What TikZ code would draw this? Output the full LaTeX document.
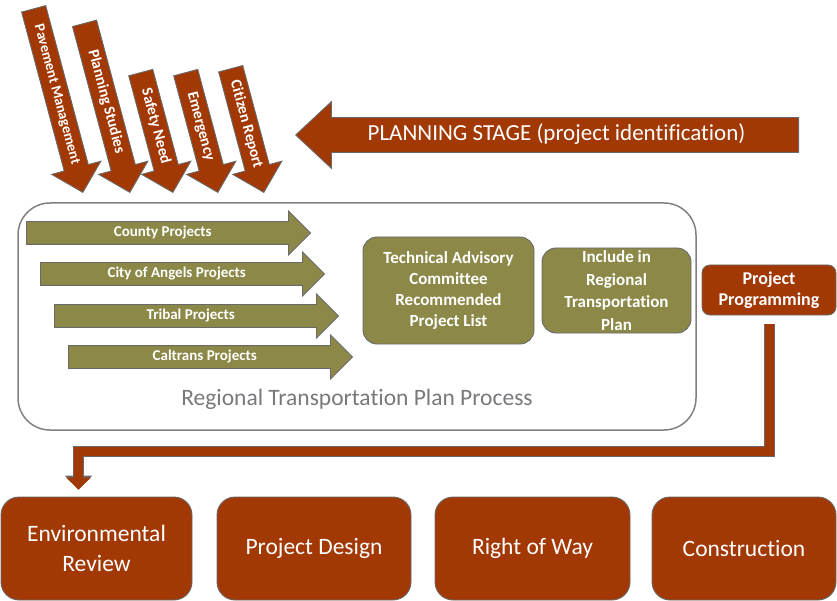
\documentclass[tikz,border=0pt]{standalone}
\usepackage{fontspec}
\setmainfont{Carlito}[Ligatures={NoCommon}]
\usetikzlibrary{shapes.arrows,arrows.meta}
\definecolor{rust}{RGB}{162,56,4}
\definecolor{rtpolive}{RGB}{140,137,72}
\definecolor{rtpgray}{RGB}{120,120,125}
\definecolor{outlgray}{RGB}{105,105,105}
\begin{document}
\begin{tikzpicture}[x=1pt,y=-1pt,
  outl/.style={draw=outlgray, line width=0.9pt},
  srcarrow/.style={single arrow, fill=rust, outl, text=white,
    font=\bfseries\fontsize{15.5}{18}\selectfont,
    text height=10pt, text depth=3pt, inner ysep=5.5pt, inner xsep=2pt,
    single arrow head extend=13pt, single arrow tip angle=90,
    rotate=-75, anchor=tip},
  projarrow/.style={single arrow, fill=rtpolive, outl, text=white,
    font=\bfseries\fontsize{15}{18}\selectfont,
    text height=10pt, text depth=3pt, inner ysep=4.5pt, inner xsep=2pt,
    single arrow head extend=10.5pt, single arrow tip angle=90,
    minimum height=284pt, anchor=tail},
  olivebox/.style={fill=rtpolive, outl, rounded corners=14pt, text=white,
    align=center, inner sep=0pt, font=\bfseries\fontsize{17}{21}\selectfont},
  rustbox/.style={fill=rust, outl, rounded corners=8pt, text=white,
    align=center, inner sep=0pt, font=\bfseries\fontsize{18}{21}\selectfont},
  stepbox/.style={fill=rust, outl, rounded corners=18pt, text=white,
    align=center, inner sep=0pt, minimum height=103pt,
    font=\fontsize{23.5}{30}\selectfont},
  conn/.style={draw=rust, line width=9pt, line join=miter,
    -{Triangle[width=24pt,length=12pt]},
    preaction={draw=outlgray, line width=11pt,
      -{Triangle[width=27pt,length=14pt]}}}
]
\useasboundingbox (0,0) rectangle (837,601);

% sources feeding the planning stage
\node[srcarrow, minimum height=190pt, font=\bfseries\fontsize{14.5}{17}\selectfont]
  (pav) at (83,193) {Pavement Management};
\node[srcarrow, minimum height=175pt] (plan) at (130,193) {Planning Studies};
\node[srcarrow, minimum height=124pt] (safe) at (173,193) {Safety Need};
\node[srcarrow, minimum height=124pt] (emer) at (218,193) {Emergency};
\node[srcarrow, minimum height=128pt] (citz) at (264,193) {Citizen Report};

% stage banner
\node[single arrow, shape border rotate=180, fill=rust, outl, text=white,
  font=\fontsize{23}{28}\selectfont, text height=15pt, text depth=4pt,
  inner ysep=7.5pt, inner xsep=2pt, single arrow head extend=16pt,
  single arrow tip angle=86, minimum height=503pt, anchor=tip]
  (stage) at (295,135) {PLANNING STAGE (project identification)};

% regional transportation plan process
\node[draw=black!50, line width=1.5pt, rounded corners=32pt, inner sep=0pt,
  minimum width=678pt, minimum height=227pt] (rtp) at (357,316.5) {};
\node[text=rtpgray, font=\fontsize{23.5}{28}\selectfont] (rtplabel) at (357,399)
  {Regional Transportation Plan Process};

\node[projarrow] (county) at (26,233) {County Projects};
\node[projarrow] (city) at (40,274) {City of Angels Projects};
\node[projarrow] (tribal) at (54,316) {Tribal Projects};
\node[projarrow] (caltrans) at (68,357) {Caltrans Projects};

\node[olivebox, minimum width=171pt, minimum height=107pt] (tac) at (448.5,290.5)
  {Technical Advisory\\Committee\\Recommended\\Project List};
\node[olivebox, minimum width=149pt, minimum height=85pt,
  font=\bfseries\fontsize{17}{22.5}\selectfont] (incl) at (616.5,290.5)
  {Include in\\Regional\\Transportation\\Plan};

\node[rustbox, minimum width=134pt, minimum height=50pt] (pp) at (769,290)
  {Project\\Programming};

% project development steps
\node[stepbox, minimum width=191pt] (env) at (96.5,548.5) {Environmental\\Review};
\node[stepbox, minimum width=194pt] (design) at (314,548.5) {Project Design};
\node[stepbox, minimum width=195pt] (row) at (532.5,548.5) {Right of Way};
\node[stepbox, minimum width=184pt] (cons) at (744,548.5) {Construction};

% programming feeds the first step
\coordinate (ppout) at ([yshift=-9pt]pp.south);
\coordinate (envin) at ([xshift=-18pt,yshift=7pt]env.north);
\coordinate (bend) at (0,451.5);
\draw[conn] (ppout) -- (ppout |- bend) -- (envin |- bend) -- (envin);
\end{tikzpicture}
\end{document}
